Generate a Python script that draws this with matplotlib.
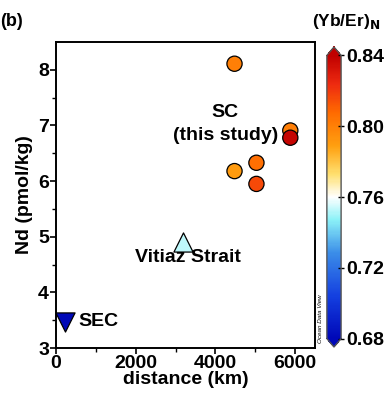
import matplotlib.pyplot as plt
from matplotlib.colors import LinearSegmentedColormap

# Data
sc_dist = [4480, 5880, 5880, 5030, 4480, 5030]
sc_nd = [8.11, 6.91, 6.78, 6.33, 6.18, 5.95]
sc_ratio = [0.800, 0.800, 0.838, 0.806, 0.790, 0.816]

vs_dist = [3180]
vs_nd = [4.91]
vs_ratio = [0.753]

sec_dist = [230]
sec_nd = [3.47]
sec_ratio = [0.675]

cb_ticks = [0.68, 0.72, 0.76, 0.80, 0.84]

plt.rcParams['font.family'] = ['Liberation Sans', 'DejaVu Sans']
plt.rcParams['font.weight'] = 'bold'

odv = LinearSegmentedColormap.from_list('odv', [
    (0.00, '#0008b8'),
    (0.15, '#1440e0'),
    (0.30, '#3a8ce8'),
    (0.42, '#8cf2f8'),
    (0.50, '#ffffff'),
    (0.58, '#ffe070'),
    (0.68, '#ffa010'),
    (0.80, '#ff6a00'),
    (0.90, '#ee2a10'),
    (1.00, '#c00000'),
])
vmin, vmax = 0.68, 0.84

fig = plt.figure(figsize=(3.85, 3.98), dpi=100)
ax = fig.add_axes([0.1455, 0.1256, 0.6727, 0.7688])

kw = dict(cmap=odv, vmin=vmin, vmax=vmax, edgecolors='black', linewidths=0.9, zorder=3)
sc = ax.scatter(sc_dist, sc_nd, c=sc_ratio, s=120, marker='o', **kw)
ax.scatter(vs_dist, vs_nd, c=vs_ratio, s=190, marker='^', **kw)
ax.scatter(sec_dist, sec_nd, c=sec_ratio, s=190, marker='v', **kw)

ax.text(4250, 7.23, 'SC', ha='center', va='center', fontsize=14, fontweight='bold')
ax.text(4250, 6.82, '(this study)', ha='center', va='center', fontsize=14, fontweight='bold')
ax.text(3300, 4.62, 'Vitiaz Strait', ha='center', va='center', fontsize=14, fontweight='bold')
ax.text(560, 3.47, 'SEC', ha='left', va='center', fontsize=14, fontweight='bold')

ax.set_xlim(0, 6500)
ax.set_ylim(3, 8.5)
ax.set_xticks([0, 2000, 4000, 6000])
ax.set_xticks([1000, 3000, 5000], minor=True)
ax.set_yticks([3, 4, 5, 6, 7, 8])
ax.set_yticks([3.5, 4.5, 5.5, 6.5, 7.5], minor=True)
ax.tick_params(which='major', length=4, width=1.2, labelsize=14, pad=1)
ax.tick_params(which='minor', length=3, width=1.0)
for lab in ax.get_xticklabels() + ax.get_yticklabels():
    lab.set_fontweight('bold')
for sp in ax.spines.values():
    sp.set_linewidth(1.4)

ax.set_xlabel('distance (km)', fontsize=14, fontweight='bold', labelpad=-1)
ax.set_ylabel('Nd (pmol/kg)', fontsize=14, fontweight='bold', labelpad=4)

fig.text(0.0, 0.945, '(b)', fontsize=13, fontweight='bold', ha='left', va='center')

cax = fig.add_axes([0.849, 0.128, 0.037, 0.754])
cb = fig.colorbar(sc, cax=cax, extend='both', extendfrac=0.03, ticks=cb_ticks)
cb.ax.tick_params(direction='inout', length=5, width=1.0, labelsize=14, pad=1)
cb.ax.set_yticklabels(['%.2f' % t for t in cb_ticks], fontweight='bold')
cb.outline.set_edgecolor('#555555')
cb.outline.set_linewidth(1.0)

fig.text(0.898, 0.945, r'(Yb/Er)$_\mathbf{N}$', fontsize=12.5, fontweight='bold',
         ha='center', va='center')
fig.text(0.833, 0.20, 'Ocean Data View', fontsize=4.5, style='italic',
         fontweight='normal', rotation=90, ha='center', va='center')

fig.savefig('out.png', dpi=100)
